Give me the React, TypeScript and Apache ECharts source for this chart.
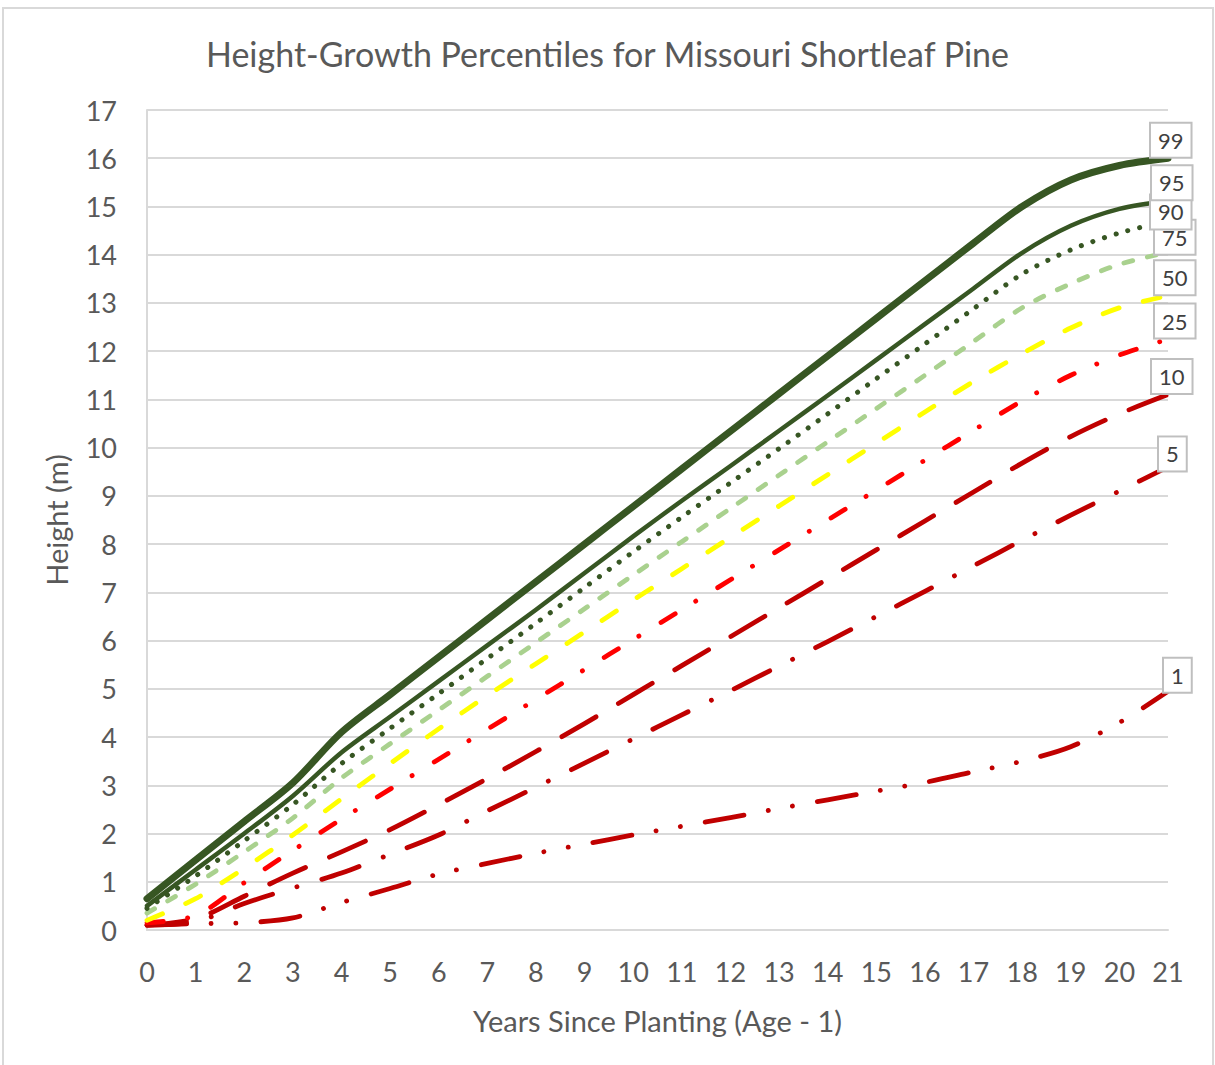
import React, { useEffect, useRef } from "react";
import * as echarts from "echarts";

const years = [0, 1, 2, 3, 4, 5, 6, 7, 8, 9, 10, 11, 12, 13, 14, 15, 16, 17, 18, 19, 20, 21];
const yTicks = [0, 1, 2, 3, 4, 5, 6, 7, 8, 9, 10, 11, 12, 13, 14, 15, 16, 17];

const p99 = [0.65, 1.45, 2.25, 3.05, 4.1, 4.88, 5.66, 6.44, 7.22, 8.0, 8.78, 9.56, 10.34, 11.12, 11.9, 12.68, 13.46, 14.24, 15.0, 15.55, 15.85, 16.0];
const p95 = [0.5, 1.25, 2.0, 2.78, 3.68, 4.42, 5.16, 5.9, 6.64, 7.4, 8.16, 8.9, 9.62, 10.35, 11.08, 11.82, 12.56, 13.3, 14.04, 14.6, 14.95, 15.12];
const p90 = [0.45, 1.12, 1.85, 2.6, 3.45, 4.18, 4.9, 5.63, 6.36, 7.1, 7.84, 8.56, 9.27, 9.98, 10.7, 11.43, 12.15, 12.88, 13.6, 14.1, 14.45, 14.7];
const p75 = [0.35, 0.95, 1.62, 2.32, 3.15, 3.86, 4.56, 5.26, 5.96, 6.66, 7.36, 8.05, 8.74, 9.43, 10.12, 10.81, 11.5, 12.2, 12.9, 13.4, 13.8, 14.05];
const p50 = [0.2, 0.65, 1.28, 1.97, 2.72, 3.45, 4.17, 4.86, 5.52, 6.18, 6.84, 7.49, 8.14, 8.79, 9.44, 10.09, 10.74, 11.37, 11.95, 12.48, 12.9, 13.15];
const p25 = [0.15, 0.3, 0.98, 1.65, 2.3, 2.92, 3.54, 4.16, 4.78, 5.4, 6.02, 6.64, 7.26, 7.88, 8.5, 9.12, 9.74, 10.36, 10.97, 11.5, 11.92, 12.25];
const p10 = [0.1, 0.23, 0.7, 1.18, 1.62, 2.08, 2.6, 3.14, 3.7, 4.28, 4.88, 5.48, 6.08, 6.68, 7.28, 7.88, 8.48, 9.08, 9.68, 10.23, 10.7, 11.1];
const p5 = [0.1, 0.17, 0.55, 0.87, 1.18, 1.57, 1.97, 2.47, 2.96, 3.46, 3.96, 4.46, 4.96, 5.47, 5.98, 6.5, 7.02, 7.55, 8.08, 8.6, 9.1, 9.6];
const p1 = [0.1, 0.13, 0.15, 0.25, 0.57, 0.86, 1.16, 1.38, 1.59, 1.78, 1.97, 2.15, 2.33, 2.52, 2.7, 2.88, 3.06, 3.28, 3.5, 3.8, 4.3, 4.95];

const DARK_GREEN = "#375623";
const LIGHT_GREEN = "#A9D18E";
const YELLOW = "#FFFF00";
const RED = "#FF0000";
const DARK_RED = "#C00000";
const FONT = "Lato, 'Open Sans', sans-serif";

export default function App() {
  const ref = useRef<HTMLDivElement>(null);

  useEffect(() => {
    document.body.style.margin = "0";
    const chart = echarts.init(ref.current!, null, { renderer: "svg" });

    const seriesDefs = [
      { name: "99", data: p99, color: DARK_GREEN, width: 7, type: "solid" as any, off: [-17, -18] },
      { name: "95", data: p95, color: DARK_GREEN, width: 4.5, type: "solid" as any, off: [-16, -18] },
      { name: "90", data: p90, color: DARK_GREEN, width: 5, type: [0.1, 12.1], off: [-17, -9] },
      { name: "75", data: p75, color: LIGHT_GREEN, width: 4.8, type: [9, 15], off: [-13, -15] },
      { name: "50", data: p50, color: YELLOW, width: 4.8, type: [17, 25], off: [-13, -18] },
      { name: "25", data: p25, color: RED, width: 4.8, type: [16.5, 24.3, 0.1, 25.7], off: [-13, -18] },
      { name: "10", data: p10, color: DARK_RED, width: 4.8, type: [39.5, 26], off: [-16, -18] },
      { name: "5", data: p5, color: DARK_RED, width: 4.8, type: [39.5, 25.7, 0.1, 25.7], off: [-9, -13] },
      { name: "1", data: p1, color: DARK_RED, width: 4.8, type: [39.5, 24.6, 0.1, 24.5, 0.1, 25.2], off: [-4, -16] },
    ];

    const series = seriesDefs.slice().reverse().map((s) => ({
      name: s.name,
      type: "line",
      data: years.map((y, i) => [y, s.data[i]]),
      showSymbol: false,
      symbol: "none",
      smooth: 0.3,
      lineStyle: { color: s.color, width: s.width, type: s.type, cap: "round", join: "round" },
      endLabel: {
        show: true,
        formatter: s.name,
        distance: 0,
        offset: s.off,
        fontFamily: FONT,
        fontSize: 22,
        color: "#404040",
        backgroundColor: "#ffffff",
        borderColor: "#bfbfbf",
        borderWidth: 2,
        padding: [6, 7, 5, 7],
      },
      emphasis: { disabled: true },
    }));

    chart.setOption({
      animation: false,
      backgroundColor: "#ffffff",
      title: {
        text: "Height-Growth Percentiles for Missouri Shortleaf Pine",
        left: "center",
        top: 31,
        textStyle: { fontFamily: FONT, fontSize: 34, fontWeight: "normal", color: "#595959" },
      },
      graphic: [
        {
          type: "rect",
          shape: { x: 3, y: 8, width: 1210, height: 1100 },
          style: { fill: "none", stroke: "#d9d9d9", lineWidth: 2 },
          silent: true,
        },
      ],
      grid: { left: 147, right: 47, top: 110, bottom: 135 },
      xAxis: {
        type: "value",
        min: 0,
        max: 21,
        interval: 1,
        name: "Years Since Planting (Age - 1)",
        nameLocation: "middle",
        nameGap: 76,
        nameTextStyle: { fontFamily: FONT, fontSize: 29, color: "#595959" },
        axisLine: { show: true, lineStyle: { color: "#d9d9d9", width: 2 } },
        axisTick: { show: false },
        splitLine: { show: false },
        axisLabel: { fontFamily: FONT, fontSize: 27, color: "#595959", margin: 28 },
      },
      yAxis: {
        type: "value",
        min: yTicks[0],
        max: yTicks[yTicks.length - 1],
        interval: 1,
        name: "Height (m)",
        nameLocation: "middle",
        nameGap: 76,
        nameTextStyle: { fontFamily: FONT, fontSize: 29, color: "#595959" },
        axisLine: { show: true, lineStyle: { color: "#d9d9d9", width: 2 } },
        axisTick: { show: false },
        splitLine: { show: true, lineStyle: { color: "#d9d9d9", width: 2 } },
        axisLabel: { fontFamily: FONT, fontSize: 27, color: "#595959", margin: 30 },
      },
      series,
    });

    return () => chart.dispose();
  }, []);

  return <div ref={ref} style={{ width: 1215, height: 1065 }} />;
}
